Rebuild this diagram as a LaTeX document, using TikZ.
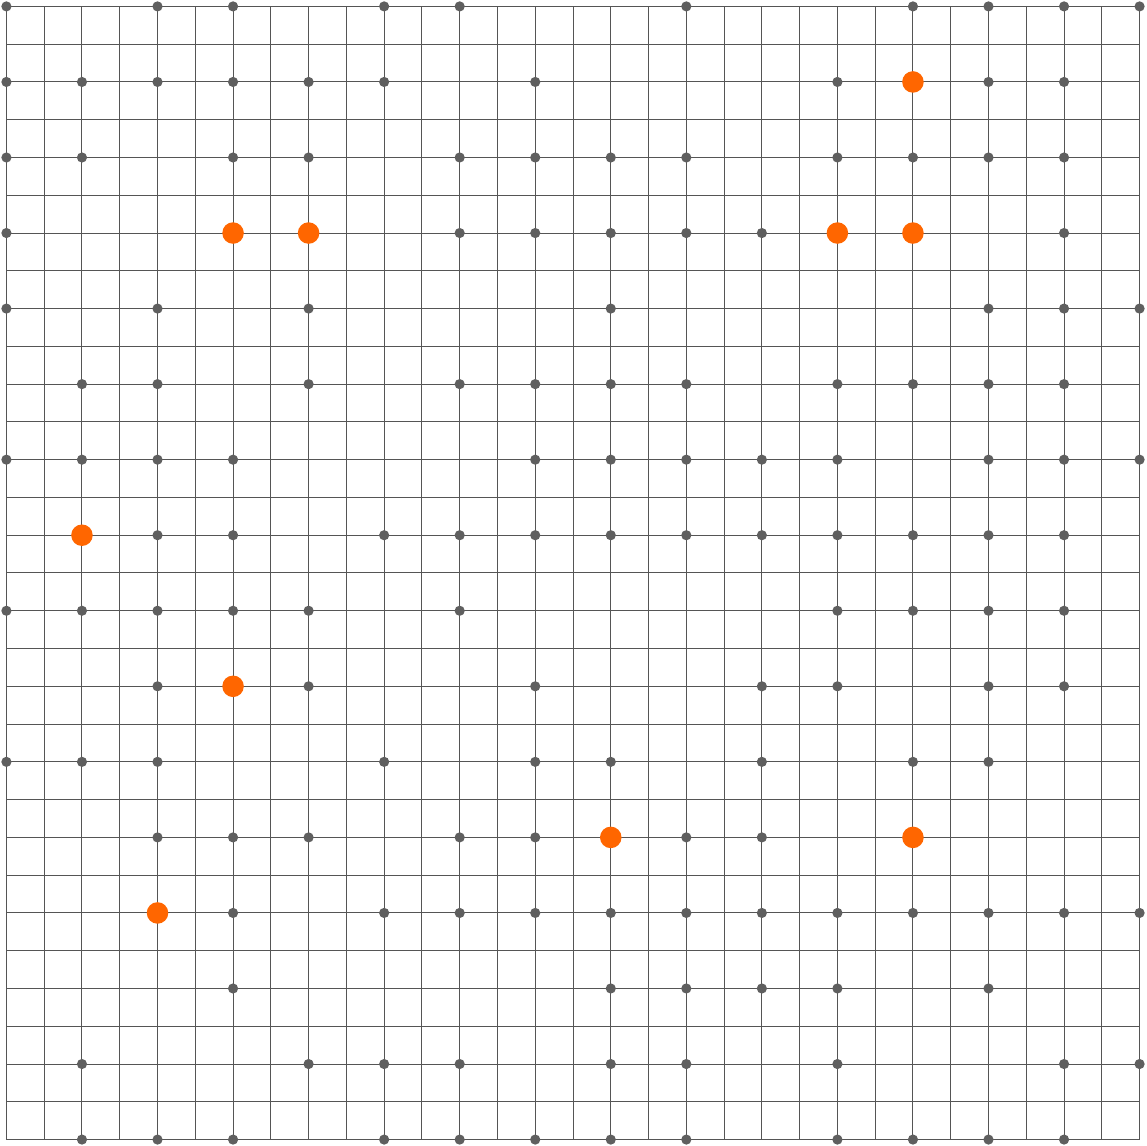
\documentclass[tikz,border=0pt]{standalone}
\usepackage{tikz}
\usetikzlibrary{positioning}
\definecolor{gridGray}{RGB}{85,85,85}
\definecolor{siteGray}{RGB}{95,95,95}
\definecolor{hitOrange}{RGB}{255,102,0}

\begin{document}
\begin{tikzpicture}[
  site/.style={circle,fill=siteGray,inner sep=0pt,minimum size=0.27cm},
  hit/.style={circle,fill=hitOrange,inner sep=0pt,minimum size=0.57cm}]
\useasboundingbox (-0.17,-0.17) rectangle (30.17,30.17);
% --- lattice ---
\draw[gridGray,line width=0.75pt] (0,0) grid (30,30);
% --- occupied sites, row by row from the top ---
\foreach \r/\cols in {0/{0,2,3,5,6,9,12,13,14,15},
                      1/{0,1,2,3,4,5,7,11,13,14},
                      2/{0,1,3,4,6,7,8,9,11,12,13,14},
                      3/{0,6,7,8,9,10,14},
                      4/{0,2,4,8,13,14,15},
                      5/{1,2,4,6,7,8,9,11,12,13,14},
                      6/{0,1,2,3,7,8,9,10,11,13,14,15},
                      7/{2,3,5,6,7,8,9,10,11,12,13,14},
                      8/{0,1,2,3,4,6,11,12,13,14},
                      9/{2,4,7,10,11,13,14},
                      10/{0,1,2,5,7,8,10,12,13},
                      11/{2,3,4,6,7,9,10},
                      12/{3,5,6,7,8,9,10,11,12,13,14,15},
                      13/{3,8,9,10,11,13},
                      14/{1,4,5,6,8,9,11,14,15},
                      15/{1,2,3,5,6,7,8,9,11,12,13,14}}{
  \foreach \c in \cols {
    \node[site] (s-\r-\c) at ({2*\c},{30-2*\r}) {};
  }
}
% --- marked sites ---
\foreach \r/\c in {1/12,3/3,3/4,3/11,3/12,7/1,9/3,11/8,11/12,12/2}{
  \node[hit] (h-\r-\c) at ({2*\c},{30-2*\r}) {};
}
\end{tikzpicture}
\end{document}
